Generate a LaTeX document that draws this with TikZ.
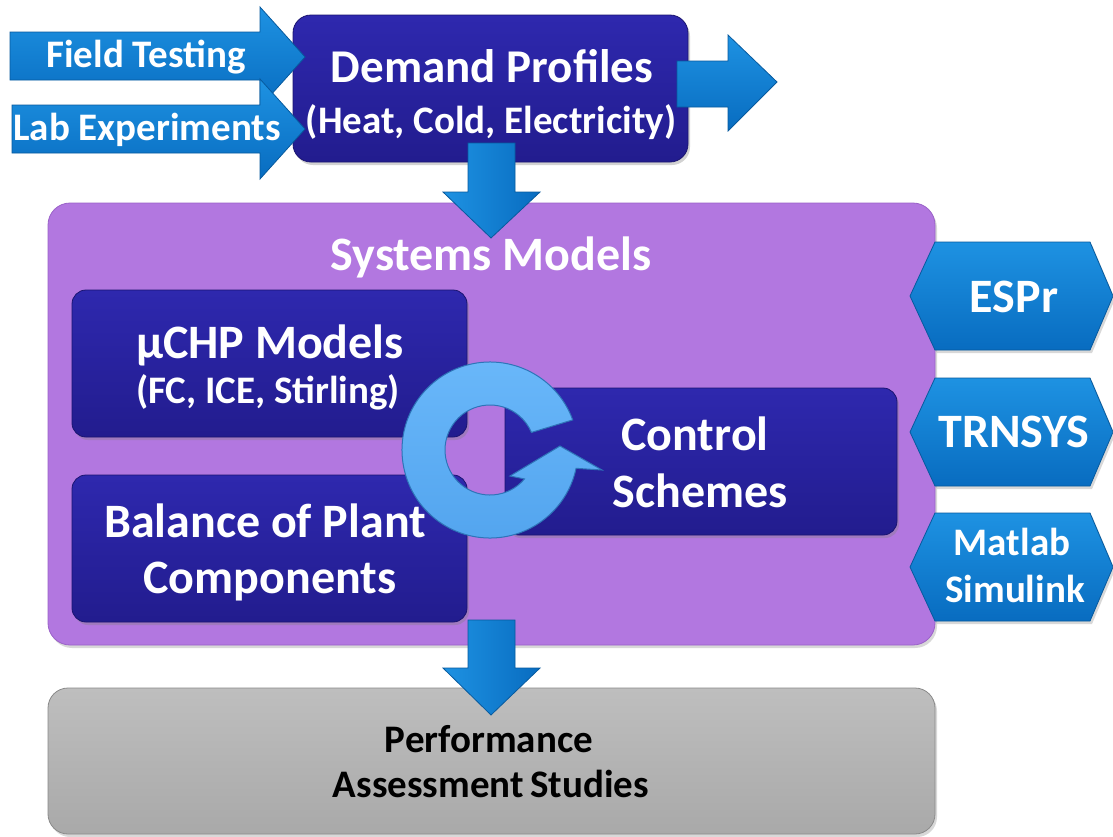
\documentclass[tikz,border=0pt]{standalone}
\usepackage{fontspec}
\setmainfont{Carlito}
\usetikzlibrary{calc,shadows}
\definecolor{arrA}{HTML}{1E92E2}
\definecolor{arrB}{HTML}{086CC0}
\definecolor{arrE}{HTML}{075A9E}
\definecolor{dbA}{HTML}{2E28AE}
\definecolor{dbB}{HTML}{221C8E}
\definecolor{dbE}{HTML}{1A1470}
\definecolor{purp}{HTML}{B277E0}
\definecolor{purpE}{HTML}{9A62C8}
\definecolor{grA}{HTML}{BEBEBE}
\definecolor{grB}{HTML}{A9A9A9}
\definecolor{grE}{HTML}{8A8A8A}
\definecolor{ringA}{HTML}{6AB8FA}
\definecolor{ringB}{HTML}{52A4EE}
\definecolor{ringE}{HTML}{2E74B8}
\tikzset{
  blockarrow/.style={top color=arrA, bottom color=arrB, draw=arrE, line width=0.8pt, line join=miter},
  vblockarrow/.style={left color=arrA, right color=arrB, draw=arrE, line width=0.8pt, line join=miter},
  darkbox/.style={rounded corners=14pt, top color=dbA, bottom color=dbB, draw=dbE, line width=0.8pt,
    drop shadow={shadow xshift=2pt, shadow yshift=-3pt, opacity=0.35}},
  hexbox/.style={top color=arrA, bottom color=arrB, draw=arrE, line width=0.8pt,
    drop shadow={shadow xshift=2pt, shadow yshift=-3pt, opacity=0.3}},
  wtxt/.style={text=white, font=\bfseries, anchor=base, inner sep=0pt},
  btxt/.style={text=black, font=\bfseries, anchor=base, inner sep=0pt},
}
\newcommand{\bigtxt}{\fontsize{48}{48}\selectfont}
\newcommand{\smltxt}{\fontsize{39}{39}\selectfont}
\begin{document}
\begin{tikzpicture}[x=1pt,y=-1pt]
\useasboundingbox (0,0) rectangle (1113,836);
\fill[white] (0,0) rectangle (1113,836);

% Systems models container
\path[rounded corners=22pt, fill=purp, draw=purpE, line width=0.8pt,
  drop shadow={shadow xshift=2pt, shadow yshift=-3pt, opacity=0.3}]
  (48,203) rectangle (935,645);
\node[wtxt] (sysT) at (491,270) {\bigtxt Systems Models};

% Performance box
\path[rounded corners=20pt, top color=grA, bottom color=grB, draw=grE, line width=0.8pt,
  drop shadow={shadow xshift=2pt, shadow yshift=-3pt, opacity=0.3}]
  (48,688) rectangle (935,834);
\node[btxt] (perf1) at (489,752) {\smltxt Performance};
\node[btxt] (perf2) at (491,797) {\smltxt Assessment\,Studies};

% inner boxes
\path[darkbox] (72,290) rectangle (467,437);
\node[wtxt] (chp1) at (270,358) {\bigtxt µCHP Models};
\node[wtxt] (chp2) at (268,403) {\smltxt (FC, ICE, Stirling)};

\path[darkbox] (72,475) rectangle (467,622);
\node[wtxt] (bop1) at (265,537) {\bigtxt Balance of Plant};
\node[wtxt] (bop2) at (270,593) {\bigtxt Components};

\path[darkbox] (505,388) rectangle (897,535);
\node[wtxt] (cs1) at (695,450) {\bigtxt Control};
\node[wtxt] (cs2) at (700,507) {\bigtxt Schemes};

% circular arrow
\coordinate (c) at (490,450);
\path[top color=ringA, bottom color=ringB, draw=ringE, line width=1pt, line join=miter]
  ($(c)+(-20:88)$) arc[start angle=-20, end angle=-348, radius=88]
  -- (602,470) -- (560,446) -- (510,476)
  -- ($(c)+(-320:45)$) arc[start angle=-320, end angle=-23, radius=45] -- cycle;

% tool hexagons
\path[hexbox] (910,296) -- (935,242) -- (1090,242) -- (1113,296) -- (1090,350) -- (935,350) -- cycle;
\node[wtxt] (espr) at (1014,312) {\bigtxt ESPr};
\path[hexbox] (910,432) -- (935,378) -- (1090,378) -- (1113,432) -- (1090,486) -- (935,486) -- cycle;
\node[wtxt] (trn) at (1014,447) {\bigtxt TRNSYS};
\path[hexbox] (910,567) -- (935,513) -- (1090,513) -- (1113,567) -- (1090,621) -- (935,621) -- cycle;
\node[wtxt] (mat1) at (1012,555) {\smltxt Matlab};
\node[wtxt] (mat2) at (1015,602) {\smltxt Simulink};

% Demand profiles
\path[rounded corners=18pt, top color=dbA, bottom color=dbB, draw=dbE, line width=0.8pt,
  drop shadow={shadow xshift=2pt, shadow yshift=-3pt, opacity=0.35}]
  (293,15) rectangle (688,162);
\node[wtxt] (dp1) at (492,82) {\fontsize{47}{47}\selectfont Demand Profiles};
\node[wtxt] (dp2) at (491,133) {\smltxt (Heat, Cold, Electricity)};

% input arrows
\path[blockarrow] (10,32) -- (260,32) -- (260,7) -- (305,57) -- (260,107) -- (260,80) -- (10,80) -- cycle;
\node[wtxt] (ft) at (146,67) {\smltxt Field Testing};
\path[blockarrow] (12,105) -- (260,105) -- (260,79) -- (305,129) -- (260,179) -- (260,153) -- (12,153) -- cycle;
\node[wtxt] (le) at (147,140) {\smltxt Lab Experiments};

% output arrow right
\path[blockarrow] (677,61) -- (728,61) -- (728,35) -- (777,82) -- (728,131) -- (728,107) -- (677,107) -- cycle;

% down arrows
\path[vblockarrow] (468,143) -- (515,143) -- (515,192) -- (540,192) -- (491,238) -- (443,192) -- (468,192) -- cycle;
\path[vblockarrow] (468,620) -- (515,620) -- (515,668) -- (540,668) -- (491,715) -- (443,668) -- (468,668) -- cycle;
\end{tikzpicture}
\end{document}
